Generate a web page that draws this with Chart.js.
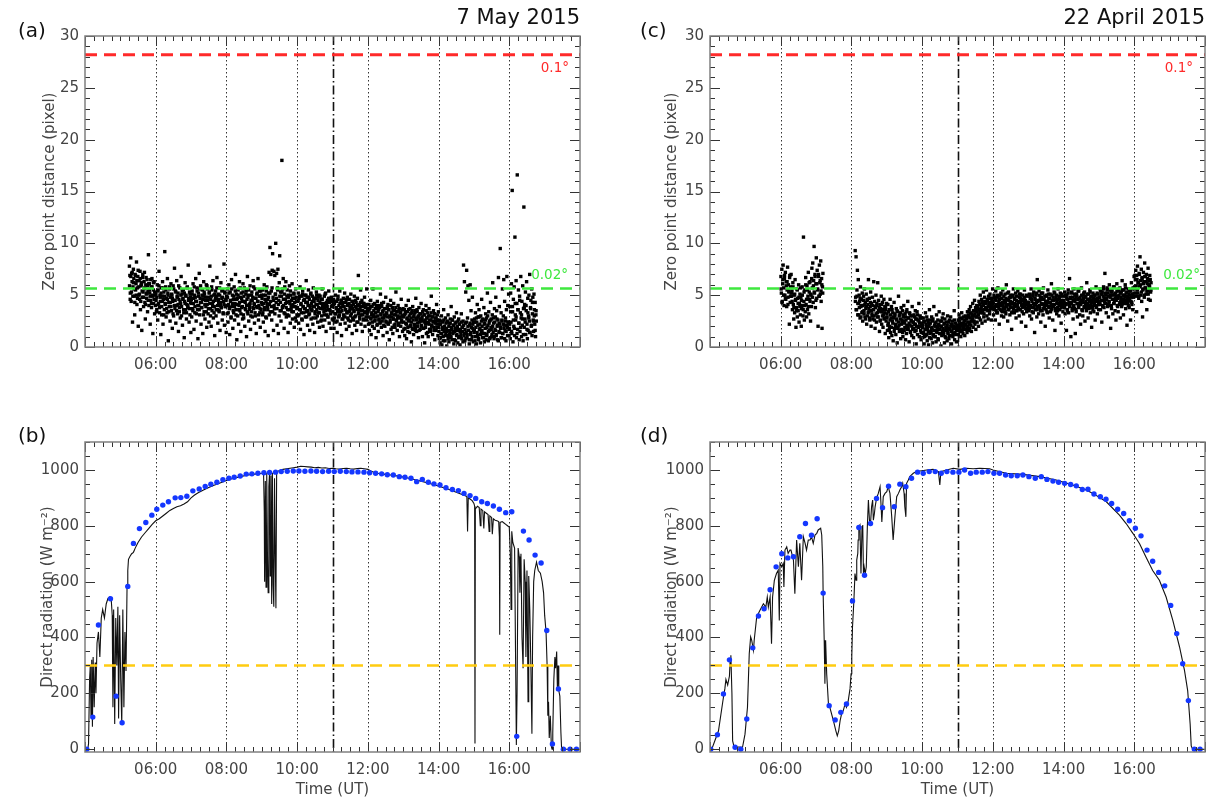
<!DOCTYPE html>
<html>
<head>
<meta charset="utf-8">
<script src="https://cdn.jsdelivr.net/npm/chart.js@4/dist/chart.umd.min.js"></script>
<style>
  body { margin: 0; background: #fff; }
  #wrap { position: relative; width: 1209px; height: 803px; }
  canvas { position: absolute; }
</style>
</head>
<body>
<div id="wrap">
  <canvas id="cA" width="604" height="400" style="left:0;top:0"></canvas>
  <canvas id="cC" width="605" height="400" style="left:604px;top:0"></canvas>
  <canvas id="cB" width="604" height="403" style="left:0;top:400px"></canvas>
  <canvas id="cD" width="605" height="403" style="left:604px;top:400px"></canvas>
</div>
<script>
// hours shown on the time axis
const hourTicks = [6, 8, 10, 12, 14, 16];
const guideHours = [6, 8, 10, 12, 14, 16];
const noonHour = 11;

// zero point distance limits (pixel) and radiation threshold
const limitHigh = 28.2;
const limitLow = 5.64;
const radThreshold = 300;

// panel (a) 7 May 2015 - zero point distance, one block per time span
const zpSpansA = [[5.25, 6], [6, 7], [7, 8], [8, 9], [9, 10], [10, 11], [11, 12], [12, 13], [13, 14], [14, 15], [15, 16], [16, 16.77]];
const zpA_05 = [7.8, 6.9, 5.2, 8.6, 4.4, 7.1, 6.3, 2.4, 5.8, 7.5, 6.6, 4.9, 3.1, 7.0, 5.5, 6.1, 8.2, 4.1, 5.7, 6.8, 2.0, 5.0, 6.4, 4.6, 7.3, 3.6, 5.9, 6.2, 1.6, 4.8, 6.7, 5.3, 3.9, 5.6, 7.2, 4.3, 2.7, 6.0, 5.1, 4.7, 6.5, 3.4, 5.4, 8.9, 4.0, 6.1, 5.2, 2.2, 4.5, 5.8, 3.8, 6.6, 4.9, 1.3, 5.5, 4.2, 6.3, 3.2, 5.0, 4.6];
const zpA_06 = [5.1, 3.4, 4.8, 6.0, 2.6, 5.5, 4.2, 7.3, 3.8, 5.0, 4.4, 1.2, 5.7, 3.1, 4.9, 6.3, 2.2, 4.6, 5.3, 3.6, 9.2, 4.1, 5.8, 2.9, 4.7, 3.3, 6.6, 5.2, 0.6, 4.3, 3.9, 5.6, 2.5, 4.8, 6.1, 3.5, 5.0, 1.8, 4.4, 5.9, 3.0, 4.5, 7.6, 3.7, 5.4, 2.3, 4.0, 6.4, 4.9, 3.2, 5.2, 1.5, 4.6, 3.4, 5.7, 2.8, 4.2, 6.8, 3.9, 5.1, 2.1, 4.7, 5.5, 3.3, 0.9, 4.4, 6.2, 3.6, 5.0, 2.7, 4.1, 5.8, 3.8, 7.9, 4.5, 2.4, 5.3, 3.1, 4.8, 1.4];
const zpA_07 = [4.6, 2.9, 5.4, 3.7, 6.1, 4.2, 1.7, 5.0, 3.3, 4.8, 6.6, 2.5, 4.4, 5.7, 3.6, 0.8, 5.2, 4.0, 7.1, 3.1, 4.7, 5.9, 2.2, 4.3, 3.8, 5.5, 1.3, 4.9, 6.3, 3.4, 5.1, 2.7, 4.5, 3.9, 6.0, 1.9, 4.1, 5.6, 3.2, 4.8, 2.4, 5.3, 7.8, 3.7, 4.6, 2.0, 5.8, 3.5, 4.2, 6.4, 2.8, 5.0, 3.9, 1.1, 4.5, 5.4, 3.0, 4.9, 6.7, 3.6, 2.3, 5.1, 4.3, 3.4, 5.7, 1.6, 4.0, 6.2, 3.8, 4.7, 2.6, 5.5, 3.3, 4.4, 8.0, 2.1, 5.2, 3.9, 4.6, 1.4];
const zpA_08 = [4.9, 3.2, 5.6, 2.4, 4.1, 6.0, 3.7, 1.2, 5.3, 4.4, 2.8, 6.5, 3.9, 5.0, 1.8, 4.6, 3.3, 5.8, 2.6, 4.2, 7.0, 3.6, 5.1, 0.7, 4.7, 3.0, 5.5, 2.2, 4.0, 6.3, 3.5, 4.8, 1.5, 5.2, 3.8, 4.4, 2.7, 6.1, 3.1, 4.9, 5.7, 2.0, 4.3, 3.6, 5.4, 1.0, 4.6, 6.8, 3.2, 5.0, 2.5, 4.1, 3.9, 5.9, 1.7, 4.5, 3.4, 5.3, 2.9, 4.8, 6.4, 3.7, 4.2, 2.3, 5.6, 3.0, 4.7, 1.3, 5.1, 3.8, 4.4, 6.6, 2.6, 4.0, 5.4, 3.3, 1.9, 4.9, 3.6, 5.0];
const zpA_09 = [4.7, 3.1, 5.5, 2.4, 4.2, 6.0, 3.6, 1.5, 5.0, 4.4, 2.8, 5.8, 3.9, 4.6, 1.1, 5.2, 7.2, 4.1, 9.6, 3.4, 7.0, 5.4, 2.6, 7.4, 9.0, 4.8, 1.6, 7.3, 3.7, 6.9, 5.1, 10.0, 4.3, 7.1, 2.1, 5.7, 7.5, 1.3, 4.5, 6.2, 8.8, 3.5, 5.3, 2.5, 4.9, 18.0, 3.8, 5.6, 6.6, 4.0, 1.8, 5.1, 3.2, 4.6, 6.3, 2.9, 4.3, 5.5, 3.6, 1.4, 4.8, 3.0, 5.9, 4.2, 2.3, 5.0, 3.7, 4.5, 6.1, 2.7, 4.1, 3.4, 5.2, 1.9, 4.7, 3.9, 5.6, 2.5, 4.4, 3.1];
const zpA_10 = [4.4, 3.0, 5.2, 2.3, 4.7, 3.6, 5.8, 1.7, 4.1, 3.3, 4.9, 2.6, 5.4, 3.9, 4.5, 1.2, 3.7, 5.0, 2.9, 4.3, 6.4, 3.4, 4.8, 2.1, 4.0, 5.5, 3.1, 4.6, 1.6, 3.8, 5.1, 2.7, 4.2, 3.5, 4.9, 2.2, 5.7, 3.9, 4.4, 1.4, 3.2, 4.7, 2.8, 5.3, 3.6, 4.1, 2.4, 4.8, 3.3, 5.0, 1.9, 4.3, 3.7, 2.5, 4.6, 3.0, 5.6, 3.9, 2.0, 4.2, 3.4, 4.9, 2.6, 3.8, 5.2, 1.5, 4.0, 3.1, 4.5, 2.9, 3.6, 5.4, 2.3, 4.3, 3.5, 4.7, 1.8, 3.9, 4.4, 2.7];
const zpA_11 = [3.9, 2.6, 4.6, 1.8, 4.2, 3.2, 5.0, 2.4, 3.7, 4.4, 1.4, 3.4, 4.9, 2.9, 4.0, 3.1, 5.4, 2.2, 3.8, 4.5, 1.1, 3.5, 4.2, 2.7, 4.7, 3.0, 3.9, 5.2, 2.3, 3.6, 4.3, 1.7, 3.3, 4.8, 2.8, 4.1, 3.4, 2.0, 4.6, 3.8, 2.5, 5.1, 3.2, 4.0, 1.3, 3.7, 4.4, 2.6, 3.5, 4.9, 2.1, 3.9, 3.0, 4.3, 1.6, 3.6, 4.7, 2.4, 6.9, 3.3, 4.1, 2.9, 3.8, 5.5, 2.2, 3.5, 4.5, 1.5, 3.1, 4.2, 2.7, 3.9, 4.8, 2.0, 3.4, 4.0, 2.6, 5.6, 3.2, 3.7];
const zpA_12 = [3.4, 2.2, 4.1, 1.6, 3.7, 2.8, 4.5, 1.2, 3.1, 3.9, 2.4, 5.6, 2.9, 3.5, 1.8, 4.2, 2.6, 3.3, 0.9, 3.8, 2.1, 4.4, 3.0, 1.5, 3.6, 2.7, 4.0, 2.3, 5.1, 3.2, 1.9, 3.9, 2.5, 3.4, 1.1, 4.3, 2.8, 3.1, 2.0, 3.7, 4.8, 2.4, 3.3, 1.4, 2.9, 4.1, 2.2, 3.6, 0.7, 3.0, 2.6, 4.5, 1.7, 3.2, 2.9, 3.8, 1.3, 2.7, 4.2, 2.1, 3.5, 1.9, 3.1, 5.3, 2.5, 3.4, 1.6, 2.8, 4.0, 2.3, 3.6, 1.0, 2.9, 3.3, 2.0, 4.6, 2.6, 3.0, 1.5, 3.7];
const zpA_13 = [2.9, 1.7, 3.6, 1.1, 3.2, 2.3, 4.0, 0.8, 2.7, 3.4, 1.9, 4.5, 2.5, 3.0, 1.4, 3.7, 2.1, 2.8, 0.5, 3.3, 1.8, 3.9, 2.6, 1.2, 3.1, 2.2, 3.5, 1.6, 4.7, 2.8, 1.5, 3.4, 2.0, 2.9, 0.9, 3.8, 2.4, 2.7, 1.7, 3.2, 4.2, 2.1, 2.9, 1.0, 2.5, 3.6, 1.8, 3.1, 0.4, 2.6, 2.2, 4.0, 1.3, 2.8, 2.4, 3.3, 1.0, 2.3, 3.7, 1.7, 3.0, 1.5, 2.6, 4.9, 2.0, 2.9, 1.2, 2.4, 3.5, 1.9, 3.2, 0.7, 2.5, 2.8, 1.6, 4.1, 2.2, 2.6, 1.1, 3.4];
const zpA_14 = [1.9, 0.8, 2.6, 0.4, 2.2, 1.3, 3.0, 0.2, 1.7, 2.4, 1.0, 3.6, 1.5, 2.0, 0.6, 2.8, 1.2, 1.8, 0.1, 2.5, 1.1, 3.1, 1.6, 0.5, 2.3, 1.4, 2.7, 0.9, 3.9, 1.9, 0.7, 2.6, 1.3, 2.1, 0.3, 2.9, 1.5, 1.8, 0.6, 2.4, 3.3, 1.2, 2.0, 0.4, 1.6, 2.7, 1.0, 2.2, 0.2, 1.7, 1.3, 3.2, 0.8, 1.9, 1.5, 2.5, 7.9, 1.1, 6.3, 0.6, 2.3, 5.3, 1.4, 7.4, 0.9, 2.8, 5.9, 1.6, 4.5, 0.3, 2.1, 6.0, 1.2, 3.5, 0.7, 2.6, 4.8, 1.8, 0.5, 2.4];
const zpA_15 = [1.4, 2.7, 0.6, 3.3, 1.9, 0.3, 2.4, 4.1, 1.1, 2.9, 0.8, 3.6, 1.7, 2.2, 0.4, 3.0, 1.5, 4.6, 2.0, 0.9, 2.6, 1.3, 3.8, 0.5, 2.3, 1.8, 3.2, 0.7, 2.8, 1.2, 5.2, 2.1, 0.6, 3.4, 1.6, 2.5, 0.9, 4.3, 1.9, 2.7, 1.0, 3.1, 6.2, 1.4, 2.3, 0.8, 3.7, 1.7, 2.9, 4.8, 1.2, 3.5, 2.0, 0.7, 2.6, 6.7, 1.5, 3.9, 2.2, 9.5, 1.8, 3.3, 0.9, 2.5, 5.6, 1.3, 3.0, 6.5, 2.1, 4.4, 1.6, 2.8, 0.6, 3.6, 6.8, 1.9, 4.0, 2.4, 5.1, 1.1];
const zpA_16 = [1.8, 3.9, 0.8, 5.2, 2.4, 6.1, 1.3, 15.1, 3.4, 0.5, 4.6, 2.0, 5.8, 1.1, 10.6, 3.1, 2.6, 6.4, 0.9, 4.2, 16.6, 1.7, 3.6, 5.5, 2.3, 0.7, 4.9, 1.5, 3.3, 6.8, 2.8, 1.0, 4.4, 2.1, 5.9, 0.6, 3.7, 13.5, 1.9, 4.1, 2.7, 5.3, 1.2, 3.5, 6.3, 2.2, 0.8, 4.7, 1.6, 3.0, 5.0, 2.5, 7.0, 1.4, 3.8, 4.5, 2.0, 5.6, 1.1, 3.2, 4.8, 2.6, 1.5, 5.1, 3.6, 2.2, 4.3, 1.0, 3.1, 2.5];
// denser core of the band, same spans
const zpA_05c = [5.9, 4.6, 6.8, 5.3, 7.2, 4.9, 6.2, 5.6, 4.3, 6.9, 5.0, 6.4, 4.7, 7.4, 5.8, 5.1, 6.6, 4.4, 6.0, 5.4, 7.0, 4.8, 6.3, 5.7, 4.1, 6.7, 5.2, 5.9, 4.5, 6.1, 5.5, 4.9, 6.5, 4.2, 5.8, 5.0, 6.2, 4.6, 5.3, 4.0];
const zpA_06c = [4.5, 3.6, 5.4, 4.1, 5.9, 3.3, 4.8, 5.2, 3.9, 4.4, 5.7, 3.1, 4.9, 4.2, 5.5, 3.7, 4.6, 5.0, 3.4, 5.8, 4.3, 3.9, 5.1, 4.7, 3.2, 5.6, 4.0, 4.5, 5.3, 3.5, 4.8, 4.1, 5.9, 3.8, 4.4, 5.0, 3.0, 5.4, 4.6, 3.6, 5.2, 4.2, 4.9, 3.3, 5.7, 4.0, 4.7, 3.7, 5.1, 4.3];
const zpA_07c = [4.2, 5.1, 3.5, 4.7, 5.8, 3.9, 4.4, 3.2, 5.4, 4.0, 4.9, 3.6, 5.6, 4.3, 3.8, 5.0, 4.6, 3.1, 5.3, 4.1, 4.8, 3.4, 5.9, 4.5, 3.7, 5.2, 4.2, 3.0, 4.9, 5.5, 3.9, 4.4, 3.3, 5.1, 4.7, 3.6, 5.7, 4.0, 4.6, 3.5, 5.0, 4.3, 3.8, 5.4, 4.8, 3.2, 4.1, 5.3, 3.9, 4.5];
const zpA_08c = [4.0, 4.8, 3.3, 5.2, 3.8, 4.5, 2.9, 5.6, 4.2, 3.5, 4.9, 3.9, 5.4, 3.1, 4.6, 4.1, 5.0, 3.6, 4.3, 5.7, 3.2, 4.7, 3.9, 5.3, 2.8, 4.4, 3.7, 5.1, 4.0, 3.4, 4.8, 5.5, 3.6, 4.2, 3.0, 5.0, 4.5, 3.8, 5.8, 4.1, 3.3, 4.7, 3.9, 5.2, 4.4, 3.1, 4.9, 3.7, 5.4, 4.3];
const zpA_09c = [4.1, 3.3, 5.0, 3.8, 4.6, 2.9, 5.4, 4.2, 3.6, 4.8, 3.1, 5.2, 4.4, 3.9, 5.7, 3.4, 4.5, 4.0, 3.2, 5.1, 4.7, 3.7, 5.5, 4.1, 3.0, 4.9, 4.3, 3.5, 5.3, 3.9, 4.6, 3.3, 5.8, 4.2, 3.8, 4.9, 3.1, 5.0, 4.4, 3.6, 5.4, 4.0, 3.4, 4.7, 3.9, 5.1, 4.3, 2.8, 4.8, 3.7];
const zpA_10c = [3.8, 4.5, 3.1, 4.9, 3.6, 4.2, 2.7, 5.1, 3.9, 3.3, 4.6, 3.7, 5.0, 2.9, 4.3, 3.5, 4.8, 3.2, 4.0, 5.2, 3.6, 4.4, 2.8, 4.7, 3.9, 3.4, 4.1, 5.0, 3.0, 4.5, 3.8, 3.3, 4.9, 4.2, 2.6, 4.6, 3.7, 4.0, 3.1, 5.1, 3.5, 4.3, 3.9, 2.9, 4.7, 3.6, 4.4, 3.2, 4.8, 4.0];
const zpA_11c = [3.4, 4.1, 2.8, 4.4, 3.2, 3.8, 2.5, 4.6, 3.6, 3.0, 4.2, 3.4, 4.5, 2.7, 3.9, 3.1, 4.3, 2.9, 3.6, 4.6, 3.3, 4.0, 2.6, 4.2, 3.5, 3.0, 3.7, 4.4, 2.8, 4.1, 3.4, 2.9, 4.5, 3.8, 2.4, 4.0, 3.2, 3.6, 2.7, 4.3, 3.1, 3.9, 3.5, 2.6, 4.2, 3.3, 3.8, 2.9, 4.1, 3.5];
const zpA_12c = [2.9, 3.6, 2.3, 3.9, 2.7, 3.3, 2.0, 4.1, 3.1, 2.5, 3.7, 2.9, 4.0, 2.2, 3.4, 2.6, 3.8, 2.4, 3.1, 4.2, 2.8, 3.5, 2.1, 3.7, 3.0, 2.5, 3.2, 3.9, 2.3, 3.6, 2.9, 2.4, 4.0, 3.3, 1.9, 3.5, 2.7, 3.1, 2.2, 3.8, 2.6, 3.4, 3.0, 2.1, 3.7, 2.8, 3.3, 2.4, 3.6, 3.0];
const zpA_13c = [2.4, 3.1, 1.8, 3.4, 2.2, 2.8, 1.5, 3.6, 2.6, 2.0, 3.2, 2.4, 3.5, 1.7, 2.9, 2.1, 3.3, 1.9, 2.6, 3.6, 2.3, 3.0, 1.6, 3.2, 2.5, 2.0, 2.7, 3.4, 1.8, 3.1, 2.4, 1.9, 3.5, 2.8, 1.4, 3.0, 2.2, 2.6, 1.7, 3.3, 2.1, 2.9, 2.5, 1.6, 3.2, 2.3, 2.8, 1.9, 3.1, 2.5];
const zpA_14c = [1.5, 2.2, 0.9, 2.5, 1.3, 1.9, 0.6, 2.6, 1.7, 1.1, 2.3, 1.5, 2.4, 0.8, 2.0, 1.2, 2.3, 1.0, 1.7, 2.6, 1.4, 2.1, 0.7, 2.3, 1.6, 1.1, 1.8, 2.5, 0.9, 2.2, 1.5, 1.0, 2.4, 1.9, 0.5, 2.1, 1.3, 1.7, 0.8, 2.4, 1.2, 2.0, 1.6, 0.7, 2.3, 1.4, 1.9, 1.0, 2.2, 1.6];
const zpA_15c = [1.6, 2.4, 1.0, 2.8, 1.4, 2.1, 0.7, 2.9, 1.8, 1.2, 2.5, 1.6, 2.7, 0.9, 2.2, 1.3, 2.6, 1.1, 1.9, 3.0, 1.5, 2.3, 0.8, 2.6, 1.7, 1.2, 2.0, 2.8, 1.0, 2.4, 1.6, 1.1, 2.7, 2.1, 0.6, 2.3, 1.4, 1.9, 0.9, 2.6, 1.3, 2.2, 1.8, 0.8, 2.5, 1.5, 2.1, 1.1, 2.4, 1.7];
const zpA_16c = [2.2, 3.4, 1.5, 3.9, 2.6, 1.8, 4.2, 2.9, 1.3, 3.6, 2.3, 4.5, 1.9, 3.1, 2.7, 1.2, 3.8, 2.4, 4.0, 1.7, 3.3, 2.8, 1.4, 3.7, 2.1, 4.3, 2.5, 3.0, 1.6, 3.5];
const zpBlocksA = [zpA_05, zpA_06, zpA_07, zpA_08, zpA_09, zpA_10, zpA_11, zpA_12, zpA_13, zpA_14, zpA_15, zpA_16];
const zpCoreA = [zpA_05c, zpA_06c, zpA_07c, zpA_08c, zpA_09c, zpA_10c, zpA_11c, zpA_12c, zpA_13c, zpA_14c, zpA_15c, zpA_16c];

// panel (c) 22 April 2015 - zero point distance
const zpSpansC = [[6.0, 7.2], [8.1, 9], [9, 10], [10, 11], [11, 12], [12, 13], [13, 14], [14, 15], [15, 16], [16, 16.48]];
const zpC_06 = [6.8, 5.2, 7.5, 4.4, 6.1, 7.9, 5.7, 4.0, 6.6, 5.0, 7.2, 4.6, 6.3, 3.9, 5.5, 7.7, 4.8, 6.0, 5.3, 2.2, 6.9, 4.3, 5.8, 7.0, 4.9, 5.4, 3.6, 6.2, 4.1, 2.7, 5.0, 3.3, 6.5, 4.5, 1.9, 3.8, 5.6, 2.9, 4.7, 3.5, 6.0, 2.4, 4.2, 5.1, 3.1, 4.8, 2.0, 3.7, 5.8, 4.0, 3.0, 10.6, 4.4, 2.6, 5.5, 3.4, 6.7, 4.1, 2.9, 5.9, 3.6, 4.9, 7.2, 3.2, 5.3, 4.6, 6.3, 2.5, 5.0, 3.9, 7.6, 5.7, 8.1, 4.3, 6.4, 9.7, 5.2, 7.0, 3.8, 6.1, 8.6, 4.7, 7.4, 5.5, 2.0, 6.8, 4.9, 7.9, 6.2, 5.1, 8.3, 4.4, 6.6, 1.8, 5.8, 7.1];
const zpC_08 = [9.3, 4.8, 8.7, 3.6, 5.5, 7.4, 4.2, 6.5, 3.1, 5.0, 4.4, 2.8, 5.8, 3.9, 4.6, 3.3, 5.2, 2.5, 4.0, 4.9, 3.5, 5.6, 2.9, 4.3, 3.7, 5.1, 2.2, 4.5, 3.0, 4.1, 6.5, 3.4, 4.7, 2.6, 3.9, 5.3, 2.0, 4.2, 3.2, 4.8, 2.7, 3.6, 6.3, 3.0, 4.4, 1.8, 3.8, 5.0, 2.4, 4.0, 3.3, 6.2, 2.9, 4.5, 3.5, 1.5, 4.1, 2.6, 3.7, 4.9, 2.2, 3.4, 4.3, 1.9, 3.1, 4.6, 2.8, 3.9, 1.3, 3.6, 2.5, 4.2];
const zpC_09 = [3.2, 1.6, 4.1, 2.3, 0.9, 3.6, 2.0, 4.6, 1.4, 2.8, 3.9, 1.1, 2.5, 3.3, 0.6, 2.9, 4.3, 1.8, 3.0, 2.2, 1.2, 3.7, 2.6, 0.4, 3.4, 1.9, 4.9, 2.1, 1.5, 3.1, 2.7, 0.8, 3.8, 1.7, 2.4, 3.5, 1.0, 2.9, 4.0, 1.6, 2.3, 3.2, 0.7, 2.6, 1.3, 3.6, 2.0, 4.4, 1.8, 2.8, 0.5, 3.3, 2.1, 1.4, 3.0, 2.5, 1.1, 3.9, 1.7, 2.4, 0.9, 3.1, 2.2, 1.5, 3.5, 2.7, 0.3, 2.0, 3.4, 1.2, 2.6, 1.9, 4.2, 1.0, 2.3, 3.0, 1.6, 0.7, 2.8, 2.1];
const zpC_10 = [2.1, 0.9, 2.8, 1.4, 0.3, 2.5, 1.7, 3.3, 1.1, 2.0, 2.9, 0.6, 1.8, 2.4, 0.2, 2.2, 3.6, 1.3, 2.6, 1.5, 0.8, 2.9, 1.9, 0.4, 2.7, 1.2, 3.9, 1.6, 1.0, 2.3, 2.0, 0.5, 3.1, 1.4, 1.8, 2.6, 0.7, 2.1, 3.4, 1.3, 1.7, 2.5, 0.1, 2.0, 1.1, 2.8, 1.5, 3.2, 1.2, 2.2, 0.4, 2.7, 1.6, 0.9, 2.4, 1.9, 0.6, 3.0, 1.4, 1.8, 0.8, 2.6, 1.7, 1.1, 2.9, 2.2, 0.3, 1.5, 2.5, 1.0, 2.0, 1.3, 3.5, 0.7, 1.9, 2.3, 1.2, 0.5, 2.1, 1.6];
const zpC_11 = [1.8, 2.6, 1.2, 3.1, 2.0, 1.5, 2.8, 1.0, 2.3, 3.3, 1.6, 2.1, 1.3, 2.9, 1.9, 2.5, 1.1, 3.0, 2.2, 1.7, 2.7, 1.4, 3.4, 2.0, 1.6, 2.9, 3.6, 1.8, 2.4, 3.9, 2.1, 1.5, 3.2, 2.7, 4.2, 1.9, 3.0, 2.5, 4.5, 2.2, 3.5, 1.7, 2.9, 4.0, 2.4, 3.7, 3.1, 2.0, 4.4, 2.8, 3.4, 5.0, 2.6, 3.9, 4.6, 2.3, 3.3, 4.1, 5.3, 2.9, 3.6, 4.8, 2.5, 4.2, 3.8, 5.5, 3.0, 4.5, 3.5, 2.7, 4.9, 4.0, 3.2, 5.1, 3.7, 4.3, 2.6, 4.7, 3.9, 5.6];
const zpC_12 = [4.3, 3.1, 5.0, 3.8, 4.6, 2.6, 5.4, 3.5, 4.1, 4.8, 3.3, 5.7, 3.9, 4.4, 2.2, 4.9, 3.6, 4.2, 5.2, 3.0, 4.7, 3.4, 5.5, 4.0, 2.9, 4.5, 3.7, 5.1, 4.3, 3.2, 6.0, 3.9, 4.6, 2.5, 4.1, 5.3, 3.6, 4.8, 3.1, 4.4, 5.0, 3.8, 1.7, 4.2, 4.9, 3.4, 5.6, 4.0, 3.3, 4.7, 3.9, 5.2, 2.8, 4.5, 3.5, 4.1, 5.4, 3.7, 4.3, 3.0, 4.8, 3.6, 5.1, 4.4, 2.4, 4.0, 3.8, 5.0, 4.6, 3.2, 4.2, 5.5, 3.9, 4.5, 2.0, 4.1, 3.4, 4.9, 4.3, 3.7];
const zpC_13 = [4.2, 3.5, 5.1, 3.0, 4.7, 4.0, 5.6, 2.7, 4.4, 3.8, 4.9, 3.3, 5.3, 4.1, 1.4, 4.6, 3.6, 5.0, 4.3, 2.9, 6.5, 3.9, 4.5, 3.2, 5.4, 4.0, 3.7, 4.8, 2.4, 4.2, 5.2, 3.5, 4.6, 3.1, 5.7, 4.1, 3.8, 4.9, 2.0, 4.4, 3.6, 5.0, 4.2, 3.3, 5.5, 3.9, 4.7, 2.8, 4.3, 5.1, 3.4, 4.0, 6.1, 3.7, 4.5, 2.6, 4.8, 3.9, 5.3, 4.1, 1.6, 3.5, 4.6, 5.0, 3.2, 4.4, 3.8, 5.6, 4.2, 3.0, 4.7, 3.6, 5.2, 4.0, 2.3, 4.5, 3.9, 4.9, 3.4, 4.3];
const zpC_14 = [4.5, 3.8, 5.3, 3.2, 4.9, 4.2, 1.6, 5.0, 3.6, 4.6, 5.5, 3.3, 4.1, 6.6, 3.9, 4.7, 1.0, 4.3, 5.2, 3.5, 4.8, 2.7, 4.0, 5.6, 3.7, 4.4, 1.3, 4.9, 3.4, 5.1, 4.2, 2.9, 4.6, 3.9, 5.4, 4.1, 3.1, 4.8, 2.2, 4.5, 5.7, 3.6, 4.3, 3.0, 5.0, 4.7, 3.8, 5.3, 2.5, 4.2, 4.9, 3.5, 6.2, 4.0, 4.6, 2.8, 5.1, 3.7, 4.4, 5.5, 3.3, 4.8, 4.1, 1.9, 4.5, 3.9, 5.2, 4.3, 3.4, 5.0, 4.6, 2.6, 4.0, 5.8, 3.8, 4.7, 3.2, 5.1, 4.4, 3.6];
const zpC_15 = [4.8, 4.1, 5.6, 3.6, 5.1, 4.5, 2.4, 5.3, 4.0, 4.9, 5.8, 3.8, 4.4, 7.1, 4.2, 5.0, 3.3, 4.7, 5.5, 3.9, 5.2, 2.9, 4.3, 6.0, 4.0, 4.8, 1.8, 5.3, 3.7, 5.5, 4.6, 3.2, 5.0, 4.2, 5.8, 4.5, 3.5, 5.2, 2.6, 4.9, 6.1, 4.0, 4.7, 3.4, 5.4, 5.0, 4.1, 5.7, 2.8, 4.6, 5.3, 3.9, 6.4, 4.4, 5.0, 3.1, 5.5, 4.2, 4.8, 6.0, 3.7, 5.2, 4.5, 2.1, 4.9, 4.3, 5.6, 4.7, 3.8, 5.4, 5.0, 2.6, 4.4, 6.2, 4.1, 5.1, 3.6, 5.7, 4.8, 6.8];
const zpC_16 = [5.6, 6.9, 4.9, 7.4, 5.9, 3.4, 6.5, 7.8, 5.2, 6.2, 4.7, 7.1, 5.8, 8.7, 6.0, 5.0, 7.5, 4.4, 6.6, 2.9, 5.5, 7.2, 6.3, 4.8, 8.1, 5.7, 6.8, 5.1, 7.0, 3.6, 6.1, 5.4, 7.6, 4.6, 6.4, 5.9, 6.9, 4.5, 5.3, 6.2];
const zpC_06c = [5.6, 4.3, 6.5, 5.0, 6.9, 4.7, 5.9, 6.3, 4.1, 5.4, 6.7, 4.9, 5.2, 4.4, 5.8, 3.8, 5.1, 4.6, 3.5, 5.5, 4.2, 4.8, 3.9, 5.7, 4.5, 5.0, 3.6, 5.3, 4.0, 6.0, 4.6, 5.5, 3.9, 6.2, 4.4, 5.1, 6.6, 4.8, 5.9, 5.3, 6.8, 4.5, 6.1, 5.6, 7.0, 4.9, 6.4, 5.4, 6.0, 5.2];
const zpC_08c = [4.4, 3.6, 4.9, 3.1, 4.2, 3.8, 4.7, 2.9, 4.0, 3.4, 4.5, 3.2, 4.1, 2.7, 3.9, 4.6, 3.3, 3.7, 2.8, 4.3, 3.5, 3.0, 4.0, 3.6, 2.6, 3.9, 3.2, 4.2, 2.9, 3.5, 3.8, 2.5, 3.4, 4.1, 3.0, 3.6, 2.7, 3.3, 3.9, 2.8];
const zpC_09c = [2.9, 2.1, 3.4, 1.7, 2.6, 3.1, 1.9, 3.6, 2.3, 2.8, 1.5, 3.2, 2.0, 2.7, 3.5, 1.8, 2.4, 3.0, 1.6, 3.3, 2.2, 2.6, 1.4, 3.1, 2.5, 1.9, 2.9, 3.4, 2.1, 1.7, 2.8, 2.3, 3.2, 1.5, 2.6, 2.0, 3.0, 2.4, 1.8, 2.9, 2.2, 1.6, 2.7, 3.1, 1.9, 2.5, 2.0, 2.8, 1.4, 2.3];
const zpC_10c = [1.9, 1.3, 2.4, 1.0, 1.7, 2.2, 1.2, 2.6, 1.5, 2.0, 0.9, 2.3, 1.4, 1.8, 2.5, 1.1, 1.6, 2.1, 1.0, 2.4, 1.5, 1.9, 0.8, 2.2, 1.7, 1.3, 2.0, 2.5, 1.2, 1.8, 1.4, 2.3, 1.0, 1.9, 1.6, 2.1, 1.3, 2.4, 1.1, 1.7, 2.0, 1.5, 2.2, 1.2, 1.8, 2.6, 1.4, 1.9, 1.6, 2.1];
const zpC_11c = [2.0, 1.6, 2.5, 1.8, 2.2, 1.5, 2.7, 1.9, 2.3, 1.7, 2.6, 2.1, 2.9, 1.8, 2.4, 3.1, 2.2, 2.8, 3.3, 2.5, 3.0, 2.7, 3.5, 2.4, 3.2, 3.8, 2.9, 3.4, 3.9, 3.1, 3.6, 4.1, 3.3, 3.7, 4.3, 3.5, 4.0, 3.2, 4.4, 3.8, 4.2, 3.6, 4.6, 3.9, 4.3, 3.5, 4.7, 4.0, 4.4, 3.7];
const zpC_12c = [4.2, 3.6, 4.8, 3.9, 4.5, 3.3, 5.0, 4.1, 3.7, 4.6, 4.0, 5.1, 3.5, 4.3, 3.8, 4.9, 4.4, 3.4, 4.7, 4.0, 5.2, 3.6, 4.5, 4.1, 3.9, 4.8, 3.3, 4.3, 5.0, 3.7, 4.6, 4.2, 3.5, 4.9, 4.0, 3.8, 4.4, 5.1, 3.6, 4.7, 4.1, 3.4, 4.5, 3.9, 4.8, 4.2, 3.7, 5.0, 4.3, 3.9];
const zpC_13c = [4.3, 3.7, 4.9, 4.0, 4.6, 3.4, 5.1, 4.2, 3.8, 4.7, 4.1, 5.2, 3.6, 4.4, 3.9, 5.0, 4.5, 3.5, 4.8, 4.1, 5.2, 3.7, 4.6, 4.2, 4.0, 4.9, 3.4, 4.4, 5.1, 3.8, 4.7, 4.3, 3.6, 5.0, 4.1, 3.9, 4.5, 5.2, 3.7, 4.8, 4.2, 3.5, 4.6, 4.0, 4.9, 4.3, 3.8, 5.1, 4.4, 4.0];
const zpC_14c = [4.4, 3.8, 5.0, 4.1, 4.7, 3.5, 5.2, 4.3, 3.9, 4.8, 4.2, 5.3, 3.7, 4.5, 4.0, 5.1, 4.6, 3.6, 4.9, 4.2, 5.4, 3.8, 4.7, 4.3, 4.1, 5.0, 3.5, 4.5, 5.2, 3.9, 4.8, 4.4, 3.7, 5.1, 4.2, 4.0, 4.6, 5.3, 3.8, 4.9, 4.3, 3.6, 4.7, 4.1, 5.0, 4.4, 3.9, 5.2, 4.5, 4.1];
const zpC_15c = [4.8, 4.2, 5.4, 4.5, 5.1, 3.9, 5.6, 4.7, 4.3, 5.2, 4.6, 5.7, 4.1, 4.9, 4.4, 5.5, 5.0, 4.0, 5.3, 4.6, 5.8, 4.2, 5.1, 4.7, 4.5, 5.4, 3.9, 4.9, 5.6, 4.3, 5.2, 4.8, 4.1, 5.5, 4.6, 4.4, 5.0, 5.7, 4.2, 5.3, 4.7, 4.0, 5.1, 4.5, 5.4, 4.8, 4.3, 5.6, 4.9, 5.2];
const zpC_16c = [5.8, 6.5, 5.2, 6.9, 5.5, 6.2, 4.9, 7.0, 5.9, 6.4, 5.3, 6.7, 5.6, 6.1, 5.0, 6.8, 5.7, 6.3, 5.4, 6.6, 5.1, 6.0, 5.8, 6.5, 5.5];
const zpBlocksC = [zpC_06, zpC_08, zpC_09, zpC_10, zpC_11, zpC_12, zpC_13, zpC_14, zpC_15, zpC_16];
const zpCoreC = [zpC_06c, zpC_08c, zpC_09c, zpC_10c, zpC_11c, zpC_12c, zpC_13c, zpC_14c, zpC_15c, zpC_16c];

// panel (b) 7 May 2015 - direct radiation [hour, W m-2]
const radB = [[4.00,0],[4.08,0],[4.10,20],[4.13,250],[4.15,300],[4.17,120],[4.19,320],[4.21,80],[4.23,330],[4.26,150],[4.29,310],[4.31,200],[4.34,380],[4.38,420],[4.42,330],[4.46,470],[4.50,500],[4.55,470],[4.60,520],[4.65,540],[4.70,545],[4.74,540],[4.77,480],[4.79,150],[4.81,500],[4.84,90],[4.87,470],[4.90,300],[4.93,510],[4.95,110],[4.98,480],[5.01,250],[5.04,90],[5.07,500],[5.10,150],[5.13,420],[5.16,280],[5.19,590],[5.21,640],[5.23,680],[5.27,690],[5.32,700],[5.37,705],[5.42,720],[5.50,740],[5.60,760],[5.70,775],[5.80,790],[5.90,805],[6.00,818],[6.10,825],[6.20,835],[6.30,845],[6.40,855],[6.50,862],[6.60,868],[6.70,872],[6.80,878],[6.90,886],[7.00,900],[7.10,910],[7.20,918],[7.35,928],[7.50,937],[7.65,945],[7.80,952],[8.00,962],[8.20,970],[8.40,976],[8.60,982],[8.80,985],[9.00,988],[9.05,990],[9.07,850],[9.08,600],[9.10,960],[9.12,580],[9.14,990],[9.16,700],[9.18,560],[9.20,940],[9.22,990],[9.24,620],[9.26,980],[9.28,520],[9.30,990],[9.32,590],[9.34,510],[9.36,970],[9.38,700],[9.40,505],[9.42,990],[9.45,995],[9.50,998],[9.60,1002],[9.70,1004],[9.80,1006],[9.90,1008],[10.00,1010],[10.10,1013],[10.20,1012],[10.30,1011],[10.40,1010],[10.50,1008],[10.60,1009],[10.70,1007],[10.80,1008],[10.90,1005],[11.00,1006],[11.10,1004],[11.20,1003],[11.30,1005],[11.40,1006],[11.50,1004],[11.60,1003],[11.70,1005],[11.80,1006],[11.90,1004],[12.00,1002],[12.10,995],[12.20,990],[12.30,987],[12.50,984],[12.70,981],[12.90,977],[13.10,972],[13.30,966],[13.50,960],[13.70,953],[13.90,946],[14.10,938],[14.30,930],[14.50,920],[14.70,910],[14.80,905],[14.82,780],[14.84,900],[14.90,895],[14.95,890],[15.00,880],[15.02,870],[15.03,20],[15.04,860],[15.10,870],[15.15,865],[15.18,800],[15.20,860],[15.25,855],[15.28,790],[15.30,850],[15.35,845],[15.40,840],[15.43,780],[15.45,835],[15.50,830],[15.52,770],[15.55,825],[15.60,820],[15.65,818],[15.70,815],[15.72,760],[15.73,410],[15.74,812],[15.80,815],[15.85,810],[15.90,805],[15.95,800],[16.00,795],[16.03,700],[16.05,500],[16.07,780],[16.10,740],[16.15,720],[16.18,300],[16.20,15],[16.22,200],[16.25,720],[16.28,690],[16.30,560],[16.33,700],[16.36,400],[16.39,290],[16.42,680],[16.45,600],[16.47,330],[16.50,640],[16.53,170],[16.55,620],[16.58,500],[16.61,300],[16.64,55],[16.66,400],[16.69,600],[16.72,640],[16.77,670],[16.82,640],[16.88,630],[16.93,600],[16.97,560],[17.00,480],[17.04,420],[17.07,300],[17.09,120],[17.11,170],[17.13,40],[17.16,120],[17.19,10],[17.21,0],[17.23,60],[17.26,250],[17.29,330],[17.31,290],[17.34,350],[17.36,220],[17.38,300],[17.40,210],[17.43,190],[17.46,60],[17.48,0],[18.00,0]];
const dotB = [[4.05,0],[4.22,115],[4.38,445],[4.72,539],[4.88,190],[5.05,95],[5.21,583],[5.37,737],[5.54,790],[5.72,812],[5.89,838],[6.03,859],[6.20,874],[6.36,886],[6.55,900],[6.71,901],[6.88,906],[7.05,925],[7.23,932],[7.40,941],[7.56,949],[7.73,956],[7.90,965],[8.07,970],[8.22,974],[8.39,978],[8.56,985],[8.72,986],[8.89,988],[9.06,990],[9.22,991],[9.39,992],[9.55,994],[9.72,995],[9.89,996],[10.05,996],[10.22,995],[10.39,996],[10.55,995],[10.72,994],[10.89,995],[11.05,994],[11.22,995],[11.39,994],[11.55,993],[11.72,993],[11.89,992],[12.05,990],[12.22,988],[12.39,986],[12.55,983],[12.72,982],[12.89,976],[13.05,974],[13.22,970],[13.38,958],[13.54,966],[13.71,956],[13.87,950],[14.04,946],[14.21,936],[14.39,930],[14.56,926],[14.72,916],[14.89,908],[15.05,898],[15.22,886],[15.38,880],[15.55,871],[15.72,859],[15.90,847],[16.07,850],[16.21,46],[16.40,781],[16.56,749],[16.73,695],[16.90,667],[17.06,425],[17.22,19],[17.39,216],[17.53,0],[17.72,0],[17.90,0]];

// panel (d) 22 April 2015 - direct radiation [hour, W m-2]
const radD = [[4.00,0],[4.05,0],[4.24,66],[4.38,186],[4.42,216],[4.45,250],[4.50,230],[4.55,262],[4.57,318],[4.59,336],[4.62,200],[4.64,30],[4.68,9],[4.92,7],[4.99,54],[5.06,150],[5.11,342],[5.15,402],[5.18,390],[5.23,354],[5.25,390],[5.32,473],[5.41,497],[5.51,521],[5.58,509],[5.62,545],[5.65,509],[5.70,545],[5.74,378],[5.77,545],[5.82,605],[5.88,629],[5.93,641],[5.96,461],[5.98,665],[6.03,653],[6.07,665],[6.09,581],[6.12,713],[6.17,725],[6.21,701],[6.26,713],[6.29,713],[6.36,677],[6.40,557],[6.45,749],[6.50,653],[6.54,737],[6.59,605],[6.64,761],[6.69,737],[6.73,713],[6.78,749],[6.83,749],[6.87,761],[6.92,737],[6.97,767],[7.02,773],[7.06,785],[7.13,791],[7.16,767],[7.19,653],[7.20,557],[7.23,390],[7.25,234],[7.27,390],[7.30,270],[7.35,162],[7.39,150],[7.44,126],[7.49,102],[7.56,66],[7.60,48],[7.64,66],[7.68,102],[7.72,126],[7.77,138],[7.82,162],[7.86,150],[7.91,174],[7.96,216],[7.99,270],[8.01,330],[8.03,437],[8.07,533],[8.10,629],[8.13,605],[8.15,677],[8.18,701],[8.19,749],[8.21,797],[8.24,803],[8.27,629],[8.30,797],[8.32,803],[8.34,629],[8.36,653],[8.39,629],[8.42,653],[8.45,797],[8.48,892],[8.51,820],[8.54,808],[8.57,868],[8.60,892],[8.62,820],[8.65,844],[8.67,868],[8.71,898],[8.76,916],[8.81,940],[8.84,868],[8.86,814],[8.90,904],[8.95,916],[9.00,922],[9.04,940],[9.09,916],[9.14,832],[9.18,749],[9.23,832],[9.28,904],[9.33,916],[9.37,928],[9.42,940],[9.45,952],[9.49,916],[9.51,868],[9.54,832],[9.56,952],[9.61,964],[9.65,976],[9.70,982],[9.75,988],[9.84,994],[9.94,996],[10.13,1000],[10.31,1002],[10.46,994],[10.50,946],[10.53,994],[10.69,1000],[10.88,1006],[11.07,1002],[11.25,1006],[11.44,1004],[11.63,1006],[11.91,1004],[12.00,1000],[12.38,988],[12.85,984],[13.32,976],[13.79,964],[14.26,946],[14.64,928],[14.83,916],[15.21,886],[15.58,838],[15.77,808],[15.96,773],[16.15,736],[16.33,688],[16.52,640],[16.71,605],[16.90,545],[17.09,461],[17.28,366],[17.42,282],[17.51,210],[17.58,90],[17.61,12],[17.65,0],[18.00,0]];
const dotD = [[4.02,0],[4.21,52],[4.38,198],[4.55,320],[4.71,7],[4.87,0],[5.04,108],[5.21,363],[5.37,477],[5.53,503],[5.70,571],[5.87,653],[6.03,700],[6.20,685],[6.36,689],[6.54,761],[6.70,808],[6.87,766],[7.03,825],[7.20,559],[7.37,156],[7.54,105],[7.70,132],[7.86,162],[8.03,531],[8.21,794],[8.37,623],[8.54,808],[8.71,898],[8.88,865],[9.05,942],[9.21,868],[9.37,949],[9.54,940],[9.70,970],[9.87,992],[10.03,988],[10.20,994],[10.37,994],[10.54,988],[10.70,994],[10.87,992],[11.04,992],[11.20,1000],[11.37,988],[11.53,992],[11.70,992],[11.86,994],[12.03,988],[12.19,988],[12.36,982],[12.52,979],[12.69,979],[12.85,982],[13.02,976],[13.20,970],[13.37,976],[13.53,966],[13.70,960],[13.86,956],[14.03,952],[14.20,948],[14.36,943],[14.53,930],[14.69,931],[14.86,914],[15.04,904],[15.20,895],[15.36,880],[15.53,859],[15.70,844],[15.86,818],[16.03,791],[16.19,764],[16.36,713],[16.52,673],[16.69,633],[16.86,585],[17.03,515],[17.20,414],[17.37,306],[17.53,174],[17.70,0],[17.86,0]];

const zpTicks = [0, 5, 10, 15, 20, 25, 30];
const radTicks = [0, 200, 400, 600, 800, 1000];

Chart.defaults.font.family = 'DejaVu Sans';
Chart.defaults.color = '#444';

function hhmm(v) { return (v < 10 ? '0' : '') + v + ':00'; }

// spread each block's samples evenly over its time span
function cloud(spans, blocks) {
  const out = [];
  blocks.forEach((vals, k) => {
    const t0 = spans[k][0], t1 = spans[k][1];
    vals.forEach((v, i) => out.push({ x: t0 + (i + 0.5) * (t1 - t0) / vals.length, y: v }));
  });
  return out;
}
function toXY(list) { return list.map(p => ({ x: p[0], y: p[1] })); }
function hline(v) { return [{ x: 4, y: v }, { x: 18, y: v }]; }

// panel decorations, keyed by canvas id
const deco = {
  cA: { yMinor: 1, yMajor: 5, texts: [
    { t: '(a)', x: 18, y: 32, size: 20, color: '#111', align: 'left' },
    { t: '7 May 2015', x: 580, y: 19, size: 21, color: '#111', align: 'right' },
    { t: '0.1°', x: 569, y: 68, size: 13.5, color: '#ff2a2a', align: 'right' },
    { t: '0.02°', x: 568, y: 275, size: 13.5, color: '#3ee83e', align: 'right' }] },
  cC: { yMinor: 1, yMajor: 5, texts: [
    { t: '(c)', x: 36, y: 32, size: 20, color: '#111', align: 'left' },
    { t: '22 April 2015', x: 601, y: 19, size: 21, color: '#111', align: 'right' },
    { t: '0.1°', x: 589, y: 68, size: 13.5, color: '#ff2a2a', align: 'right' },
    { t: '0.02°', x: 596, y: 275, size: 13.5, color: '#3ee83e', align: 'right' }] },
  cB: { yMinor: 50, yMajor: 200, texts: [
    { t: '(b)', x: 18, y: 37, size: 20, color: '#111', align: 'left' }] },
  cD: { yMinor: 50, yMajor: 200, texts: [
    { t: '(d)', x: 36, y: 37, size: 20, color: '#111', align: 'left' }] }
};

const framePlugin = {
  id: 'frame',
  beforeDatasetsDraw(chart) {
    const ctx = chart.ctx, a = chart.chartArea, x = chart.scales.x;
    ctx.save();
    ctx.strokeStyle = '#333';
    ctx.lineWidth = 1;
    ctx.setLineDash([1.5, 2.5]);
    ctx.beginPath();
    guideHours.forEach(h => {
      const px = Math.round(x.getPixelForValue(h)) + 0.5;
      ctx.moveTo(px, a.top); ctx.lineTo(px, a.bottom);
    });
    ctx.stroke();
    const pn = Math.round(x.getPixelForValue(noonHour)) + 0.5;
    ctx.strokeStyle = '#111';
    ctx.lineWidth = 1.6;
    ctx.setLineDash([9, 3, 1.5, 3]);
    ctx.beginPath(); ctx.moveTo(pn, a.top); ctx.lineTo(pn, a.bottom); ctx.stroke();
    ctx.restore();
  },
  afterDraw(chart) {
    const ctx = chart.ctx, a = chart.chartArea, x = chart.scales.x, y = chart.scales.y;
    const d = deco[chart.canvas.id];
    ctx.save();
    ctx.setLineDash([]);
    ctx.strokeStyle = '#333';
    ctx.lineWidth = 1;
    ctx.beginPath();
    for (let m = 16; m <= 72; m++) {
      const px = Math.round(x.getPixelForValue(m / 4)) + 0.5;
      const len = m % 8 === 0 ? 10 : 5;
      ctx.moveTo(px, a.bottom); ctx.lineTo(px, a.bottom - len);
      ctx.moveTo(px, a.top); ctx.lineTo(px, a.top + len);
    }
    for (let k = Math.ceil(y.min / d.yMinor); k * d.yMinor <= y.max; k++) {
      const v = k * d.yMinor;
      const py = Math.round(y.getPixelForValue(v)) + 0.5;
      const len = v % d.yMajor === 0 ? 10 : 5;
      ctx.moveTo(a.left, py); ctx.lineTo(a.left + len, py);
      ctx.moveTo(a.right, py); ctx.lineTo(a.right - len, py);
    }
    ctx.stroke();
    ctx.strokeStyle = '#808080';
    ctx.lineWidth = 1.5;
    ctx.strokeRect(a.left, a.top, a.right - a.left, a.bottom - a.top);
    ctx.textBaseline = 'middle';
    d.texts.forEach(s => {
      ctx.font = s.size + 'px "DejaVu Sans"';
      ctx.fillStyle = s.color;
      ctx.textAlign = s.align;
      ctx.fillText(s.t, s.x, s.y);
    });
    ctx.restore();
  }
};

function panel(id, s) {
  const canvas = document.getElementById(id);
  const W = canvas.width, H = canvas.height, A = s.area;
  return new Chart(canvas, {
    type: 'scatter',
    data: { datasets: s.datasets },
    options: {
      responsive: false,
      animation: false,
      events: [],
      layout: { padding: { left: 0, top: A[1], right: W - A[2], bottom: 0 } },
      plugins: { legend: { display: false }, tooltip: { enabled: false } },
      scales: {
        x: {
          type: 'linear', min: 4, max: 18,
          grid: { display: false, drawTicks: false },
          border: { display: false },
          afterBuildTicks: sc => { sc.ticks = hourTicks.map(v => ({ value: v })); },
          afterFit: sc => { sc.height = H - A[3]; },
          ticks: { padding: 9, maxRotation: 0, autoSkip: false, font: { size: 15 }, callback: v => hhmm(v) },
          title: { display: !!s.xTitle, text: s.xTitle || '', font: { size: 15 }, padding: { top: 0, bottom: 4 } }
        },
        y: {
          type: 'linear', min: s.yMin, max: s.yMax,
          grid: { display: false, drawTicks: false },
          border: { display: false },
          afterBuildTicks: sc => { sc.ticks = s.yTicks.map(v => ({ value: v })); },
          afterFit: sc => { sc.width = A[0]; },
          ticks: { padding: 6, font: { size: 15 }, callback: v => String(v) },
          title: { display: true, text: s.yTitle, font: { size: 15 }, padding: { top: s.yTitleX - 9, bottom: 0 } }
        }
      }
    },
    plugins: [framePlugin]
  });
}

function zeroPointSets(spans, blocks, core) {
  return [
    { data: hline(limitHigh), showLine: true, borderColor: '#ff2a2a', borderWidth: 3, borderDash: [12, 7], pointRadius: 0, order: 0 },
    { data: hline(limitLow), showLine: true, borderColor: '#3ee83e', borderWidth: 2.5, borderDash: [12, 7], pointRadius: 0, order: 0 },
    { data: cloud(spans, blocks).concat(cloud(spans, core)), pointStyle: 'rect', pointRadius: 2.4, backgroundColor: '#000', borderWidth: 0, order: 1 }
  ];
}
function radiationSets(line, dots) {
  return [
    { data: hline(radThreshold), showLine: true, borderColor: '#ffcc11', borderWidth: 2.5, borderDash: [12, 7], pointRadius: 0, order: 0 },
    { data: toXY(dots), pointStyle: 'circle', pointRadius: 2.7, backgroundColor: '#1437ff', borderWidth: 0, order: 1 },
    { data: toXY(line), showLine: true, borderColor: '#111', borderWidth: 1.1, pointRadius: 0, tension: 0, order: 2 }
  ];
}

panel('cA', { area: [85, 36, 580, 347], yMin: 0, yMax: 30, yTicks: zpTicks,
  yTitle: 'Zero point distance (pixel)', yTitleX: 50, datasets: zeroPointSets(zpSpansA, zpBlocksA, zpCoreA) });
panel('cC', { area: [106, 36, 601, 347], yMin: 0, yMax: 30, yTicks: zpTicks,
  yTitle: 'Zero point distance (pixel)', yTitleX: 68, datasets: zeroPointSets(zpSpansC, zpBlocksC, zpCoreC) });
panel('cB', { area: [85, 42, 580, 352], yMin: -10, yMax: 1100, yTicks: radTicks, xTitle: 'Time (UT)',
  yTitle: 'Direct radiation (W m⁻²)', yTitleX: 48, datasets: radiationSets(radB, dotB) });
panel('cD', { area: [106, 42, 601, 352], yMin: -10, yMax: 1100, yTicks: radTicks, xTitle: 'Time (UT)',
  yTitle: 'Direct radiation (W m⁻²)', yTitleX: 68, datasets: radiationSets(radD, dotD) });
</script>
</body>
</html>
